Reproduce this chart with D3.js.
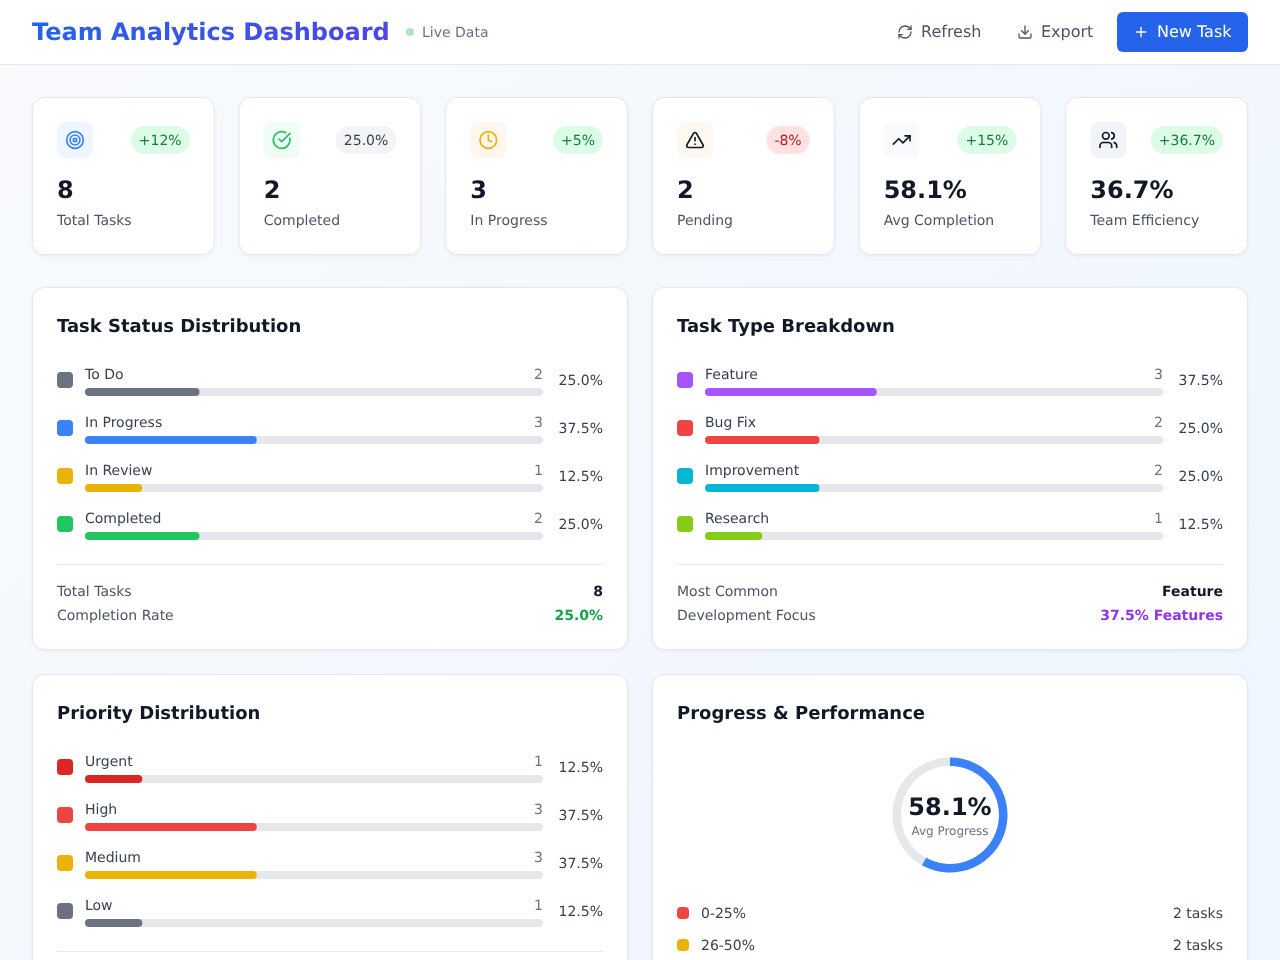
<!DOCTYPE html>
<html>
<head>
<meta charset="utf-8">
<title>Team Analytics Dashboard</title>
<script src="https://cdn.jsdelivr.net/npm/d3@7"></script>
<style>
  html, body { margin: 0; padding: 0; overflow: hidden; background: #f8fafc; }
  svg { display: block; will-change: transform; }
  text { font-family: "DejaVu Sans", sans-serif; text-rendering: geometricPrecision; }
</style>
</head>
<body>
<div id="container"></div>
<script>
const kpiLabels = ["Total Tasks", "Completed", "In Progress", "Pending", "Avg Completion", "Team Efficiency"];
const kpiValues = ["8", "2", "3", "2", "58.1%", "36.7%"];
const kpiBadges = ["+12%", "25.0%", "+5%", "-8%", "+15%", "+36.7%"];
const kpiBadgeKinds = ["up", "flat", "up", "down", "up", "up"];
const kpiIcons = ["target", "check", "clock", "alert", "trend", "users"];
const kpiIconColors = ["#3b82f6", "#22c55e", "#eab308", "#111827", "#111827", "#111827"];
const kpiIconBacks = ["#eff6ff", "#f0fdf4", "#fff7ed", "#fdf8f0", "#f8fafc", "#f1f5f9"];

const statusLabels = ["To Do", "In Progress", "In Review", "Completed"];
const statusCounts = [2, 3, 1, 2];
const statusColors = ["#6b7280", "#3b82f6", "#eab308", "#22c55e"];

const typeLabels = ["Feature", "Bug Fix", "Improvement", "Research"];
const typeCounts = [3, 2, 2, 1];
const typeColors = ["#a855f7", "#ef4444", "#06b6d4", "#84cc16"];

const priorityLabels = ["Urgent", "High", "Medium", "Low"];
const priorityCounts = [1, 3, 3, 1];
const priorityColors = ["#dc2626", "#ef4444", "#eab308", "#6b7280"];

const avgProgress = 58.1;
const rangeLabels = ["0-25%", "26-50%"];
const rangeCounts = [2, 2];
const rangeColors = ["#ef4444", "#eab308"];

const iconPaths = {
  target: '<circle cx="12" cy="12" r="10"/><circle cx="12" cy="12" r="6"/><circle cx="12" cy="12" r="2"/>',
  check: '<path d="M21.8 10A10 10 0 1 1 17 3.3"/><path d="m9 11 3 3L22 4"/>',
  clock: '<circle cx="12" cy="12" r="10"/><path d="M12 6v6l4 2"/>',
  alert: '<path d="m21.7 18-8-14a2 2 0 0 0-3.5 0l-8 14A2 2 0 0 0 4 21h16a2 2 0 0 0 1.7-3"/><path d="M12 9v4"/><path d="M12 17h.01"/>',
  trend: '<path d="M22 7 13.5 15.5 8.5 10.5 2 17"/><path d="M16 7h6v6"/>',
  users: '<path d="M16 21v-2a4 4 0 0 0-4-4H6a4 4 0 0 0-4 4v2"/><circle cx="9" cy="7" r="4"/><path d="M22 21v-2a4 4 0 0 0-3-3.9"/><path d="M16 3.1a4 4 0 0 1 0 7.8"/>',
  refresh: '<path d="M3 12a9 9 0 0 1 9-9 9.8 9.8 0 0 1 6.7 2.7L21 8"/><path d="M21 3v5h-5"/><path d="M21 12a9 9 0 0 1-9 9 9.8 9.8 0 0 1-6.7-2.7L3 16"/><path d="M8 16H3v5"/>',
  download: '<path d="M21 15v4a2 2 0 0 1-2 2H5a2 2 0 0 1-2-2v-4"/><path d="m7 10 5 5 5-5"/><path d="M12 15V3"/>',
  plus: '<path d="M5 12h14"/><path d="M12 5v14"/>'
};

(function () {
  const badgeStyles = {
    up: { back: "#dcfce7", text: "#15803d" },
    flat: { back: "#f3f4f6", text: "#374151" },
    down: { back: "#fee2e2", text: "#b91c1c" }
  };

  const svg = d3.select("#container").append("svg")
    .attr("width", 1280)
    .attr("height", 960);

  const defs = svg.append("defs");

  const pageGradient = defs.append("linearGradient")
    .attr("id", "pageBack")
    .attr("x1", 0).attr("y1", 0).attr("x2", 1).attr("y2", 0.75);
  pageGradient.append("stop").attr("offset", 0).attr("stop-color", "#f8fafc");
  pageGradient.append("stop").attr("offset", 1).attr("stop-color", "#eff6ff");

  const titleGradient = defs.append("linearGradient")
    .attr("id", "titleFill")
    .attr("gradientUnits", "userSpaceOnUse")
    .attr("x1", 32).attr("y1", 0).attr("x2", 390).attr("y2", 0);
  titleGradient.append("stop").attr("offset", 0).attr("stop-color", "#2563eb");
  titleGradient.append("stop").attr("offset", 1).attr("stop-color", "#4f46e5");

  const shadow = defs.append("filter")
    .attr("id", "cardShadow")
    .attr("x", "-5%").attr("y", "-5%").attr("width", "110%").attr("height", "110%");
  shadow.append("feDropShadow")
    .attr("dx", 0).attr("dy", 1).attr("stdDeviation", 1.5)
    .attr("flood-color", "#000").attr("flood-opacity", 0.06);

  function label(parent, x, y, content, size, color, options) {
    let opts = options || {};
    return parent.append("text")
      .attr("x", x)
      .attr("y", y)
      .attr("font-size", size)
      .attr("font-weight", opts.weight || "normal")
      .attr("text-anchor", opts.anchor || "start")
      .attr("fill", color)
      .text(content);
  }

  function icon(parent, name, x, y, size, color, width) {
    parent.append("g")
      .attr("transform", `translate(${x},${y}) scale(${size / 24})`)
      .attr("fill", "none")
      .attr("stroke", color)
      .attr("stroke-width", width || 2)
      .attr("stroke-linecap", "round")
      .attr("stroke-linejoin", "round")
      .html(iconPaths[name]);
  }

  function card(x, y, w, h) {
    svg.append("rect")
      .attr("x", x + 0.5).attr("y", y + 0.5)
      .attr("width", w - 1).attr("height", h - 1)
      .attr("rx", 12)
      .attr("fill", "#fff")
      .attr("stroke", "#e5e7eb")
      .attr("filter", "url(#cardShadow)");
  }

  function drawHeader() {
    svg.append("rect").attr("width", 1280).attr("height", 960).attr("fill", "url(#pageBack)");
    svg.append("rect").attr("width", 1280).attr("height", 64).attr("fill", "#fff");
    svg.append("rect").attr("y", 64).attr("width", 1280).attr("height", 1).attr("fill", "#e5e7eb");

    label(svg, 32, 40, "Team Analytics Dashboard", 24, "url(#titleFill)", { weight: "bold" });
    svg.append("circle").attr("cx", 410).attr("cy", 32).attr("r", 4).attr("fill", "#aee5bf");
    label(svg, 422, 37, "Live Data", 14, "#6b7280");

    icon(svg, "refresh", 897, 24, 16, "#4b5563");
    label(svg, 921, 37, "Refresh", 16, "#4b5563");
    icon(svg, "download", 1017, 24, 16, "#4b5563");
    label(svg, 1041, 37, "Export", 16, "#4b5563");

    svg.append("rect")
      .attr("x", 1117).attr("y", 12)
      .attr("width", 131).attr("height", 40)
      .attr("rx", 6)
      .attr("fill", "#2563eb");
    icon(svg, "plus", 1133, 24, 16, "#fff");
    label(svg, 1157, 37, "New Task", 16, "#fff");
  }

  function drawKpis() {
    const band = d3.scaleBand()
      .domain(d3.range(kpiLabels.length))
      .range([32, 1248 + 24])
      .paddingInner(0)
      .paddingOuter(0);
    const cardWidth = band.bandwidth() - 24;

    kpiLabels.forEach((name, i) => {
      let x = band(i);
      card(x, 97, cardWidth, 158);

      svg.append("rect")
        .attr("x", x + 25).attr("y", 122)
        .attr("width", 36).attr("height", 36)
        .attr("rx", 8)
        .attr("fill", kpiIconBacks[i]);
      icon(svg, kpiIcons[i], x + 33, 130, 20, kpiIconColors[i]);

      let style = badgeStyles[kpiBadgeKinds[i]];
      let right = x + cardWidth - 25;
      let pill = svg.append("rect").attr("y", 126).attr("height", 28).attr("rx", 14).attr("fill", style.back);
      let text = label(svg, right - 8, 145, kpiBadges[i], 14, style.text, { anchor: "end" });
      let pillWidth = text.node().getComputedTextLength() + 16;
      pill.attr("x", right - pillWidth).attr("width", pillWidth);

      label(svg, x + 25, 198, kpiValues[i], 24, "#111827", { weight: "bold" });
      label(svg, x + 25, 225, name, 14, "#4b5563");
    });
  }

  function drawBars(x0, y0, names, counts, colors) {
    const total = d3.sum(counts);
    const barX = d3.scaleLinear().domain([0, 100]).range([0, 458]);
    const rowY = d3.scaleBand().domain(d3.range(names.length)).range([y0, y0 + 48 * names.length]);

    names.forEach((name, i) => {
      let y = rowY(i);
      let share = counts[i] / total * 100;

      svg.append("rect")
        .attr("x", x0 + 25).attr("y", y + 7)
        .attr("width", 16).attr("height", 16)
        .attr("rx", 4)
        .attr("fill", colors[i]);
      label(svg, x0 + 53, y + 14, name, 14, "#374151");
      label(svg, x0 + 511, y + 14, counts[i], 14, "#6b7280", { anchor: "end" });

      svg.append("rect")
        .attr("x", x0 + 53).attr("y", y + 23)
        .attr("width", barX(100)).attr("height", 8)
        .attr("rx", 4)
        .attr("fill", "#e5e7eb");
      svg.append("rect")
        .attr("x", x0 + 53).attr("y", y + 23)
        .attr("width", barX(share)).attr("height", 8)
        .attr("rx", 4)
        .attr("fill", colors[i]);

      label(svg, x0 + 571, y + 20, share.toFixed(1) + "%", 14, "#374151", { anchor: "end" });
    });
  }

  function drawBarPanel(x, y, h, title, names, counts, colors, footer) {
    card(x, y, 596, h);
    label(svg, x + 25, y + 45, title, 18, "#111827", { weight: "bold" });
    drawBars(x, y + 78, names, counts, colors);

    svg.append("rect")
      .attr("x", x + 25).attr("y", y + 277)
      .attr("width", 546).attr("height", 1)
      .attr("fill", "#e5e7eb");

    footer.forEach((row, i) => {
      let rowBase = y + 309 + i * 24;
      label(svg, x + 25, rowBase, row.name, 14, "#4b5563");
      label(svg, x + 571, rowBase, row.value, 14, row.color, { anchor: "end", weight: "bold" });
    });
  }

  function drawProgressPanel(x, y) {
    card(x, y, 596, 400);
    label(svg, x + 25, y + 45, "Progress & Performance", 18, "#111827", { weight: "bold" });

    const cx = x + 298;
    const cy = y + 141;
    const angle = d3.scaleLinear().domain([0, 100]).range([0, 2 * Math.PI]);
    const arc = d3.arc().innerRadius(49).outerRadius(57.5);
    const ring = svg.append("g").attr("transform", `translate(${cx},${cy})`);

    ring.append("path")
      .attr("d", arc({ startAngle: 0, endAngle: angle(100) }))
      .attr("fill", "#e5e7eb");
    ring.append("path")
      .attr("d", arc({ startAngle: 0, endAngle: angle(avgProgress) }))
      .attr("fill", "#3b82f6");

    label(svg, cx, cy, avgProgress.toFixed(1) + "%", 24, "#111827", { anchor: "middle", weight: "bold" });
    label(svg, cx, cy + 20, "Avg Progress", 12, "#6b7280", { anchor: "middle" });

    rangeLabels.forEach((name, i) => {
      let rowY = y + 239 + i * 32;
      svg.append("rect")
        .attr("x", x + 25).attr("y", rowY - 6)
        .attr("width", 12).attr("height", 12)
        .attr("rx", 4)
        .attr("fill", rangeColors[i]);
      label(svg, x + 49, rowY + 5, name, 14, "#374151");
      label(svg, x + 571, rowY + 5, rangeCounts[i] + " tasks", 14, "#374151", { anchor: "end" });
    });
  }

  drawHeader();
  drawKpis();
  drawBarPanel(32, 287, 363, "Task Status Distribution", statusLabels, statusCounts, statusColors, [
    { name: "Total Tasks", value: "8", color: "#111827" },
    { name: "Completion Rate", value: "25.0%", color: "#16a34a" }
  ]);
  drawBarPanel(652, 287, 363, "Task Type Breakdown", typeLabels, typeCounts, typeColors, [
    { name: "Most Common", value: "Feature", color: "#111827" },
    { name: "Development Focus", value: "37.5% Features", color: "#9333ea" }
  ]);
  drawBarPanel(32, 674, 400, "Priority Distribution", priorityLabels, priorityCounts, priorityColors, []);
  drawProgressPanel(652, 674);
})();
</script>
</body>
</html>
